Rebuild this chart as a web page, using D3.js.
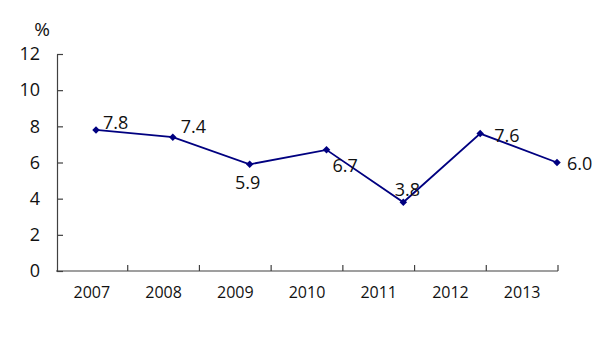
<!DOCTYPE html>
<html><head><meta charset="utf-8">
<script src="https://cdn.jsdelivr.net/npm/d3@7"></script>
<style>
html,body{margin:0;padding:0;background:#fff;}
svg{display:block;font-family:"Open Sans",sans-serif;}
</style></head>
<body><svg id="c" width="600" height="347"></svg>
<script>
const years = ["2007","2008","2009","2010","2011","2012","2013"];
const values = [7.8, 7.4, 5.9, 6.7, 3.8, 7.6, 6.0];
const labels = ["7.8","7.4","5.9","6.7","3.8","7.6","6.0"];
const yTicks = [0,2,4,6,8,10,12];
// label placement relative to marker: [dx, dy, anchor]
const place = [[7,-7,"start"],[8,-10,"start"],[-2,19,"middle"],[6,16,"start"],[4,-12,"middle"],[14,2,"start"],[10,1,"start"]];

const svg = d3.select("#c");
const axisColor = "#404040";
const lineColor = "#000080";

const y = d3.scaleLinear().domain([0,12]).range([271,54]);
const xBand = d3.scaleBand().domain(years).range([56,558]).padding(0);
const xPt = d3.scalePoint().domain(years).range([96,557]);

// y axis
const yAxis = d3.axisLeft(y).tickValues(yTicks).tickSizeInner(-6).tickSizeOuter(0).tickPadding(17);
const gy = svg.append("g").attr("transform","translate(57,0)").call(yAxis);
gy.select(".domain").attr("stroke",axisColor).attr("stroke-width",1.2);
gy.selectAll(".tick line").attr("stroke",axisColor).attr("stroke-width",1.2);
gy.selectAll(".tick text").attr("font-size",18).attr("fill","#111").attr("font-family","Open Sans");

// x axis
const gx = svg.append("g").attr("transform","translate(0,271)");
gx.append("line").attr("x1",56).attr("x2",558).attr("y1",0).attr("y2",0)
  .attr("stroke",axisColor).attr("stroke-width",1.2);
gx.selectAll("line.tk").data(years.slice(1).concat(["end"])).join("line")
  .attr("class","tk")
  .attr("x1",(d,i)=> i<years.length-1 ? xBand(d) : xBand.range()[1])
  .attr("x2",(d,i)=> i<years.length-1 ? xBand(d) : xBand.range()[1])
  .attr("y1",0).attr("y2",-6).attr("stroke",axisColor).attr("stroke-width",1.2);
gx.selectAll("text").data(years).join("text")
  .attr("x",d=>xBand(d)+xBand.bandwidth()/2)
  .attr("y",27)
  .attr("text-anchor","middle")
  .attr("font-size",16).attr("fill","#111")
  .text(d=>d);

// % unit
svg.append("text").attr("x",42).attr("y",36).attr("text-anchor","middle")
  .attr("font-size",19).attr("fill","#111").text("%");

// line
const line = d3.line().x((d,i)=>xPt(years[i])).y(d=>y(d));
svg.append("path").datum(values).attr("d",line)
  .attr("fill","none").attr("stroke",lineColor).attr("stroke-width",1.8);

// markers (square rotated 45°)
svg.selectAll("path.m").data(values).join("path")
  .attr("class","m")
  .attr("d",d3.symbol().type(d3.symbolSquare).size(28))
  .attr("transform",(d,i)=>`translate(${xPt(years[i])},${y(d)}) rotate(45)`)
  .attr("fill",lineColor);

// data labels
svg.selectAll("text.lbl").data(values).join("text")
  .attr("class","lbl")
  .attr("x",(d,i)=>xPt(years[i])+place[i][0])
  .attr("y",(d,i)=>y(d)+place[i][1]+6)
  .attr("text-anchor",(d,i)=>place[i][2])
  .attr("font-size",18).attr("fill","#111")
  .text((d,i)=>labels[i]);
</script></body></html>
